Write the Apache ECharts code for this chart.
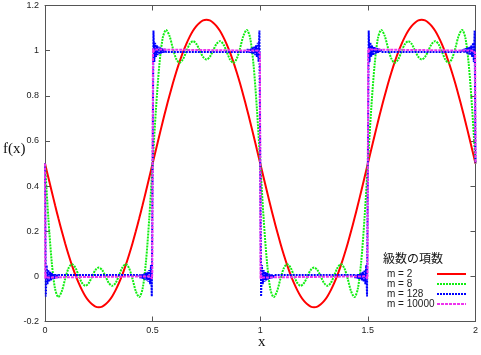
<!DOCTYPE html>
<html><head><meta charset="utf-8">
<script src="https://cdn.jsdelivr.net/npm/echarts@6/dist/echarts.min.js"></script>
<style>html,body{margin:0;padding:0;background:#fff}#c{width:481px;height:355px}</style>
</head><body><div id="c"></div>
<script>
var seriesNames = ['m = 2', 'm = 8', 'm = 128', 'm = 10000'];
var xTicks = ['0', '0.5', '1', '1.5', '2'];

var xs = [0,.0156,.0313,.0469,.0625,.0781,.0938,.1094,.125,.1406,.1563,.1719,.1875,.2031,.2188,.2344,.25,.2656,.2813,.2969,.3125,.3281,.3438,.3594,.375,.3906,.4063,.4219,.4375,.4531,.4688,.4844,.5,
.5156,.5313,.5469,.5625,.5781,.5938,.6094,.625,.6406,.6563,.6719,.6875,.7031,.7188,.7344,.75,.7656,.7813,.7969,.8125,.8281,.8438,.8594,.875,.8906,.9063,.9219,.9375,.9531,.9688,.9844,1,
1.0156,1.0313,1.0469,1.0625,1.0781,1.0938,1.1094,1.125,1.1406,1.1563,1.1719,1.1875,1.2031,1.2188,1.2344,1.25,1.2656,1.2813,1.2969,1.3125,1.3281,1.3438,1.3594,1.375,1.3906,1.4063,1.4219,1.4375,1.4531,1.4688,1.4844,1.5,
1.5156,1.5313,1.5469,1.5625,1.5781,1.5938,1.6094,1.625,1.6406,1.6563,1.6719,1.6875,1.7031,1.7188,1.7344,1.75,1.7656,1.7813,1.7969,1.8125,1.8281,1.8438,1.8594,1.875,1.8906,1.9063,1.9219,1.9375,1.9531,1.9688,1.9844,2];

var redY = [.5,.438,.376,.315,.256,.200,.146,.096,.050,.008,-.029,-.061,-.088,-.109,-.124,-.134,-.137,-.134,-.124,-.109,-.088,-.061,-.029,.008,.050,.096,.146,.200,.256,.315,.376,.438,.5,
.562,.624,.685,.744,.800,.854,.904,.950,.992,1.029,1.061,1.088,1.109,1.124,1.134,1.137,1.134,1.124,1.109,1.088,1.061,1.029,.992,.950,.904,.854,.800,.744,.685,.624,.562,.5,
.438,.376,.315,.256,.200,.146,.096,.050,.008,-.029,-.061,-.088,-.109,-.124,-.134,-.137,-.134,-.124,-.109,-.088,-.061,-.029,.008,.050,.096,.146,.200,.256,.315,.376,.438,.5,
.562,.624,.685,.744,.800,.854,.904,.950,.992,1.029,1.061,1.088,1.109,1.124,1.134,1.137,1.134,1.124,1.109,1.088,1.061,1.029,.992,.950,.904,.854,.800,.744,.685,.624,.562,.5];

var greenY = [.5,.258,.063,-.056,-.092,-.066,-.011,.036,.054,.039,.004,-.029,-.042,-.030,-.001,.028,.039,.028,-.001,-.030,-.042,-.029,.004,.039,.054,.036,-.011,-.066,-.092,-.056,.063,.258,.5,
.742,.937,1.056,1.092,1.066,1.011,.964,.946,.961,.996,1.029,1.042,1.030,1.001,.972,.961,.972,1.001,1.030,1.042,1.029,.996,.961,.946,.964,1.011,1.066,1.092,1.056,.937,.742,.5,
.258,.063,-.056,-.092,-.066,-.011,.036,.054,.039,.004,-.029,-.042,-.030,-.001,.028,.039,.028,-.001,-.030,-.042,-.029,.004,.039,.054,.036,-.011,-.066,-.092,-.056,.063,.258,.5,
.742,.937,1.056,1.092,1.066,1.011,.964,.946,.961,.996,1.029,1.042,1.030,1.001,.972,.961,.972,1.001,1.030,1.042,1.029,.996,.961,.946,.964,1.011,1.066,1.092,1.056,.937,.742,.5];

var blueX = [0,.0039,.0078,.0117,.0156,.0195,.0234,.0273,.0313,.0352,.0391,.043,.0469,.0508,.0547,.0586,.0625,
.4375,.4414,.4453,.4492,.4531,.457,.4609,.4648,.4688,.4727,.4766,.4805,.4844,.4883,.4922,.4961,.5,.5039,.5078,.5117,.5156,.5195,.5234,.5273,.5313,.5352,.5391,.543,.5469,.5508,.5547,.5586,.5625,
.9375,.9414,.9453,.9492,.9531,.957,.9609,.9648,.9688,.9727,.9766,.9805,.9844,.9883,.9922,.9961,1,1.0039,1.0078,1.0117,1.0156,1.0195,1.0234,1.0273,1.0313,1.0352,1.0391,1.043,1.0469,1.0508,1.0547,1.0586,1.0625,
1.4375,1.4414,1.4453,1.4492,1.4531,1.457,1.4609,1.4648,1.4688,1.4727,1.4766,1.4805,1.4844,1.4883,1.4922,1.4961,1.5,1.5039,1.5078,1.5117,1.5156,1.5195,1.5234,1.5273,1.5313,1.5352,1.5391,1.543,1.5469,1.5508,1.5547,1.5586,1.5625,
1.9375,1.9414,1.9453,1.9492,1.9531,1.957,1.9609,1.9648,1.9688,1.9727,1.9766,1.9805,1.9844,1.9883,1.9922,1.9961,2];
var blueY = [.5,-.089,.05,-.035,.028,-.024,.02,-.018,.016,-.014,.012,-.011,.01,-.009,.008,-.007,.006,
.006,-.007,.008,-.009,.01,-.011,.012,-.014,.016,-.018,.02,-.024,.028,-.035,.05,-.089,.5,1.089,.95,1.035,.972,1.024,.98,1.018,.984,1.014,.988,1.011,.99,1.009,.992,1.007,.994,
.994,1.007,.992,1.009,.99,1.011,.988,1.014,.984,1.018,.98,1.024,.972,1.035,.95,1.089,.5,-.089,.05,-.035,.028,-.024,.02,-.018,.016,-.014,.012,-.011,.01,-.009,.008,-.007,.006,
.006,-.007,.008,-.009,.01,-.011,.012,-.014,.016,-.018,.02,-.024,.028,-.035,.05,-.089,.5,1.089,.95,1.035,.972,1.024,.98,1.018,.984,1.014,.988,1.011,.99,1.009,.992,1.007,.994,
.994,1.007,.992,1.009,.99,1.011,.988,1.014,.984,1.018,.98,1.024,.972,1.035,.95,1.089,.5];

var magX = [0,.0015,.003,.0045,.006,.01,.49,.494,.4955,.497,.4985,.5,.5015,.503,.5045,.506,.51,.99,.994,.9955,.997,.9985,1,
1.0015,1.003,1.0045,1.006,1.01,1.49,1.494,1.4955,1.497,1.4985,1.5,1.5015,1.503,1.5045,1.506,1.51,1.99,1.994,1.9955,1.997,1.9985,2];
var magY = [.5,-.012,.008,-.005,.003,0,0,-.004,.006,-.01,.015,.5,.985,1.01,.994,1.005,1,1,1.004,.994,1.008,.988,.5,
-.012,.008,-.005,.003,0,0,-.004,.006,-.01,.015,.5,.985,1.01,.994,1.005,1,1,1.004,.994,1.008,.988,.5];

function zip(a, b) { return a.map(function (v, i) { return [v, b[i]]; }); }

var chart = echarts.init(document.getElementById('c'), null, {renderer: 'canvas'});
var axisCol = '#555';
var lblFont = {fontFamily: 'Liberation Sans', fontSize: 9, color: '#222'};
function mkX(pos, show) {
  return {type: 'value', position: pos, min: 0, max: 2, interval: 0.5,
    axisLine: {show: true, onZero: false, lineStyle: {color: axisCol, width: 1}},
    axisTick: {show: true, inside: true, length: 5, lineStyle: {color: axisCol}},
    axisLabel: Object.assign({show: show, margin: 5, formatter: function (v) { return xTicks[Math.round(v * 2)]; }}, lblFont),
    splitLine: {show: false}};
}
function mkY(pos, show) {
  return {type: 'value', position: pos, min: -0.2, max: 1.2, interval: 0.2,
    axisLine: {show: true, onZero: false, lineStyle: {color: axisCol, width: 1}},
    axisTick: {show: true, inside: true, length: 5, lineStyle: {color: axisCol}},
    axisLabel: Object.assign({show: show, margin: 6}, lblFont),
    splitLine: {show: false}};
}
chart.setOption({
  animation: false,
  backgroundColor: '#fff',
  grid: {left: 45, right: 4.5, top: 5.5, bottom: 33.5, containLabel: false},
  title: [
    {text: '級数の項数', left: 383, top: 252, padding: 0, textStyle: {fontFamily: 'Noto Sans CJK JP', fontSize: 12, fontWeight: 'normal', color: '#111'}},
    {text: 'f(x)', left: 3, top: 142, padding: 0, textStyle: {fontFamily: 'Liberation Serif', fontSize: 15, fontWeight: 'normal', color: '#111'}},
    {text: 'x', left: 258, top: 335, padding: 0, textStyle: {fontFamily: 'Liberation Serif', fontSize: 15, fontWeight: 'normal', color: '#111'}}
  ],
  legend: {
    orient: 'vertical', left: 387, top: 269, padding: 0,
    itemWidth: 29, itemHeight: 10, itemGap: 0, align: 'right',
    data: seriesNames,
    itemStyle: {opacity: 0},
    formatter: function (n) { return '{a|' + n + '}'; },
    textStyle: {rich: {a: {width: 45, align: 'left', fontSize: 10, fontFamily: 'Liberation Sans', color: '#222'}}}
  },
  xAxis: [mkX('bottom', true), mkX('top', false)],
  yAxis: [mkY('left', true), mkY('right', false)],
  series: [
    {name: seriesNames[0], type: 'line', data: zip(xs, redY), smooth: 0.3, symbol: 'none',
      lineStyle: {color: '#ff0000', width: 2}, itemStyle: {color: '#ff0000'}},
    {name: seriesNames[1], type: 'line', data: zip(xs, greenY), smooth: 0.3, symbol: 'none',
      lineStyle: {color: '#11ee11', width: 2, type: [2, 1]}, itemStyle: {color: '#11ee11'}},
    {name: seriesNames[2], type: 'line', data: zip(blueX, blueY), symbol: 'none',
      lineStyle: {color: '#0000ff', width: 2, type: [2, 1]}, itemStyle: {color: '#0000ff'}},
    {name: seriesNames[3], type: 'line', data: zip(magX, magY), symbol: 'none',
      lineStyle: {color: '#ee33ee', width: 2, type: [3, 1]}, itemStyle: {color: '#ee33ee'}}
  ]
});
</script>
</body></html>
